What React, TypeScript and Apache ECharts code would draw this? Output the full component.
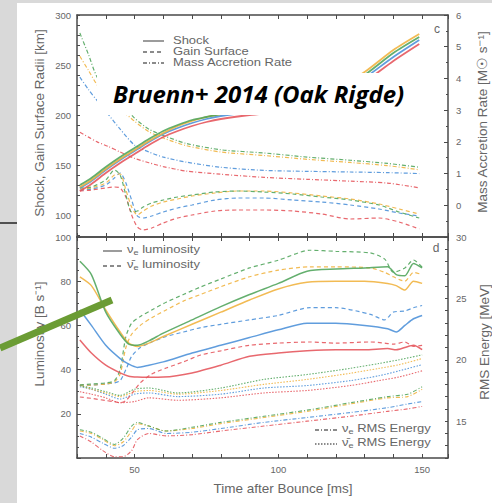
import React, { useEffect, useRef } from 'react';
import * as echarts from 'echarts';

// ---- Panel c : shock radius (km) ----
const shockTime = [31, 35, 40, 45, 50, 55, 60, 65, 70, 75, 80, 90, 100, 110, 120, 130, 140, 149];
const shockGreen = [130, 137, 148, 158, 167, 176, 184, 190, 195, 198, 201, 205, 208, 213, 223, 240, 262, 278];
const shockOrange = [128, 135, 146, 156, 165, 174, 182, 189, 194, 198, 201, 206, 210, 216, 226, 243, 265, 281];
const shockBlue = [127, 134, 145, 155, 164, 173, 181, 187, 192, 196, 199, 203, 206, 210, 219, 237, 258, 275];
const shockRed = [124, 131, 142, 152, 161, 170, 178, 184, 189, 193, 196, 200, 203, 207, 216, 233, 254, 271];

// ---- Panel c : gain surface radius (km) ----
const gainTime = [31, 35, 40, 43, 45, 47, 49, 51, 53, 56, 60, 65, 70, 78, 86, 95, 105, 115, 125, 135, 142, 149];
const gainGreen = [127, 128, 135, 145, 140, 120, 103, 104, 108, 112, 115, 118, 120, 123, 124, 123, 121, 118, 115, 110, 103, 97];
const gainOrange = [126, 127, 132, 140, 141, 125, 108, 100, 104, 109, 113, 116, 119, 122, 124, 124, 122, 119, 116, 111, 106, 101];
const gainBlue = [125, 126, 130, 137, 142, 132, 115, 99, 97, 99, 103, 107, 110, 115, 117, 117, 115, 113, 110, 106, 102, 99];
const gainRed = [124, 125, 127, 128, 127, 118, 100, 88, 85, 87, 92, 97, 100, 104, 105, 105, 104, 101, 96, 97, 93, 86];

// ---- Panel c : mass accretion rate (Msun/s) ----
const mdotTime = [31, 34, 37, 41, 45, 50, 55, 60, 68, 80, 95, 110, 125, 138, 149];
const mdotGreen = [5.43, 4.75, 4.04, 3.65, 3.25, 2.75, 2.4, 2.2, 1.95, 1.75, 1.65, 1.52, 1.42, 1.32, 1.2];
const mdotOrange = [4.7, 4.25, 3.8, 3.4, 3.05, 2.65, 2.32, 2.12, 1.88, 1.68, 1.57, 1.45, 1.35, 1.25, 1.12];
const mdotBlue = [4.04, 3.65, 3.3, 2.85, 2.4, 1.9, 1.68, 1.52, 1.36, 1.2, 1.1, 1.07, 1.05, 1.03, 1.0];
const mdotRed = [2.3, 2.15, 2.0, 1.85, 1.68, 1.48, 1.34, 1.22, 1.08, 0.98, 0.88, 0.82, 0.76, 0.7, 0.55];

// ---- Panel d : nu_e luminosity (B/s) ----
const lumTime = [31, 35, 40, 45, 48, 51, 55, 60, 70, 80, 90, 100, 110, 120, 130, 138, 141, 144, 147, 150];
const lumGreen = [89, 83, 66, 56, 51.5, 51, 53, 56.5, 62.5, 68.5, 74, 79, 84.5, 85.5, 86, 86.5, 83, 82.5, 88, 86];
const lumOrange = [82, 78, 67, 57, 52, 50.5, 52, 55, 60.5, 66, 71.5, 76.5, 79.5, 80, 80, 79, 78, 76, 80, 79];
const lumBlue = [67, 60, 51, 45, 42.5, 41, 42, 43.5, 47.5, 51, 54.5, 58, 61, 61, 60, 58.5, 57, 60, 63, 64.5];
const lumRed = [53.4, 47.5, 42, 38.5, 37, 36.6, 36.5, 36.6, 38.5, 42, 46, 47.5, 48.5, 49, 49, 49.5, 49, 50, 51, 49];

// ---- Panel d : anti-nu_e luminosity (B/s) ----
const alumTime = [31, 35, 40, 43, 45, 47, 49, 52, 56, 61, 67, 73, 80, 90, 100, 111, 120, 132, 137, 140, 144, 147, 150];
const alumGreen = [33, 33.5, 34, 35, 40, 55, 61, 64, 67, 70.5, 74, 77.4, 81, 86, 89.5, 94, 93.5, 92.8, 90, 84, 86, 89.6, 86.4];
const alumOrange = [33, 33, 33.5, 34.5, 38, 50, 56, 60, 63.5, 67, 71, 74, 77.5, 82, 85, 86.5, 86.5, 86, 84, 82, 80, 84, 83];
const alumBlue = [33, 33, 33.5, 34, 35, 40, 46, 50, 52.5, 55, 57, 59, 60.5, 62.5, 64.5, 68, 68, 65, 62.5, 66, 66.5, 68, 69];
const alumRed = [27.6, 27, 26, 25.5, 25, 26, 29, 34, 38, 40.7, 43.5, 46.6, 48.5, 51, 52, 52.5, 52, 52.5, 52, 51.5, 52.5, 50.5, 51];

// ---- Panel d : nu_e RMS energy (MeV) ----
const ermsTime = [31, 35, 39, 43, 46, 49, 51, 55, 61, 70, 80, 95, 110, 125, 138, 145, 150];
const ermsGreen = [14.3, 14.1, 13.6, 13.1, 13.6, 14.6, 14.9, 14.6, 14.2, 14.5, 14.9, 15.4, 15.9, 16.5, 17.0, 17.2, 17.8];
const ermsOrange = [14.2, 14.0, 13.5, 13.0, 13.3, 14.2, 14.8, 14.6, 14.2, 14.4, 14.8, 15.3, 15.8, 16.4, 16.9, 17.0, 17.6];
const ermsBlue = [14.0, 13.7, 13.2, 12.8, 13.0, 13.7, 14.3, 14.4, 14.0, 14.1, 14.4, 14.9, 15.3, 15.7, 16.1, 16.4, 16.6];
const ermsRed = [13.8, 13.3, 12.6, 12.1, 12.1, 12.6, 13.5, 14.0, 13.8, 13.9, 14.2, 14.6, 15.0, 15.4, 15.8, 16.0, 16.2];

// ---- Panel d : anti-nu_e RMS energy (MeV) ----
const aermsTime = [31, 35, 40, 45, 50, 55, 65, 80, 95, 110, 125, 135, 142, 150];
const aermsGreen = [17.9, 17.7, 17.4, 17.1, 17.6, 17.7, 17.3, 17.7, 18.4, 18.8, 19.3, 19.7, 20.0, 20.4];
const aermsOrange = [17.9, 17.6, 17.3, 17.0, 17.4, 17.5, 17.2, 17.5, 18.0, 18.4, 18.9, 19.3, 19.6, 20.1];
const aermsBlue = [17.8, 17.6, 17.2, 16.8, 17.2, 17.3, 17.0, 17.2, 17.7, 17.9, 18.3, 18.7, 19.1, 19.6];
const aermsRed = [17.4, 17.2, 16.9, 16.5, 16.6, 16.9, 16.7, 16.9, 17.3, 17.5, 17.9, 18.3, 18.6, 19.1];

// ---- axis ticks / labels ----
const kmLabels = [100, 150, 200, 250, 300];
const mevLabels = [15, 20, 25, 30];
const timeLabels = [50, 100, 150];

const GREEN = '#4ea45a';
const ORANGE = '#f0b23c';
const BLUE = '#4a90d8';
const RED = '#e5535a';
const AX = '#4a4a4a';
const TXT = '#666666';
const FONT = 'Liberation Sans';

const SOLID: any = 'solid';
const DASH: any = [4, 3];
const DASHDOT: any = [4, 2, 1, 2];
const DOT: any = [1.5, 1.5];

function mk(times: number[], vals: number[], xi: number, yi: number, color: string, dash: any, width: number) {
  return {
    type: 'line',
    xAxisIndex: xi,
    yAxisIndex: yi,
    data: times.map((t, i) => [t, vals[i]]),
    showSymbol: false,
    smooth: 0.25,
    silent: true,
    lineStyle: { color, width, type: dash, opacity: 0.88 },
  };
}

function range(a: number, b: number, s: number) {
  const r: number[] = [];
  for (let v = a; v <= b + 1e-9; v += s) r.push(Math.round(v * 100) / 100);
  return r;
}

export default function App() {
  const ref = useRef<HTMLDivElement>(null);
  useEffect(() => {
    if (!ref.current) return;
    const chart = echarts.init(ref.current, undefined, { renderer: 'svg' });

    const xBase = (grid: number, pos: string, labels: boolean) => ({
      type: 'value',
      gridIndex: grid,
      position: pos,
      min: 30,
      max: 159,
      interval: 10,
      splitLine: { show: false },
      axisLine: { show: true, onZero: false, lineStyle: { color: AX, width: 1.5 } },
      axisTick: { show: true, inside: true, length: 4, lineStyle: { color: AX } },
      axisLabel: labels
        ? { show: true, customValues: timeLabels, color: TXT, fontSize: 9.5, fontFamily: FONT, margin: 6 }
        : { show: false },
    });

    const C = 0; // x axis of panel c
    const D = 1; // x axis of panel d

    const series: any[] = [
      // panel c
      mk(gainTime, gainRed, C, 0, RED, DASH, 1.2),
      mk(gainTime, gainBlue, C, 0, BLUE, DASH, 1.2),
      mk(gainTime, gainOrange, C, 0, ORANGE, DASH, 1.2),
      mk(gainTime, gainGreen, C, 0, GREEN, DASH, 1.2),
      mk(mdotTime, mdotRed, C, 1, RED, DASHDOT, 1.2),
      mk(mdotTime, mdotBlue, C, 1, BLUE, DASHDOT, 1.2),
      mk(mdotTime, mdotOrange, C, 1, ORANGE, DASHDOT, 1.2),
      mk(mdotTime, mdotGreen, C, 1, GREEN, DASHDOT, 1.2),
      mk(shockTime, shockRed, C, 0, RED, SOLID, 1.8),
      mk(shockTime, shockBlue, C, 0, BLUE, SOLID, 1.8),
      mk(shockTime, shockOrange, C, 0, ORANGE, SOLID, 1.8),
      mk(shockTime, shockGreen, C, 0, GREEN, SOLID, 1.8),
      // panel d
      mk(ermsTime, ermsRed, D, 3, RED, DASHDOT, 1.1),
      mk(ermsTime, ermsBlue, D, 3, BLUE, DASHDOT, 1.1),
      mk(ermsTime, ermsOrange, D, 3, ORANGE, DASHDOT, 1.1),
      mk(ermsTime, ermsGreen, D, 3, GREEN, DASHDOT, 1.1),
      mk(aermsTime, aermsRed, D, 3, RED, DOT, 1.1),
      mk(aermsTime, aermsBlue, D, 3, BLUE, DOT, 1.1),
      mk(aermsTime, aermsOrange, D, 3, ORANGE, DOT, 1.1),
      mk(aermsTime, aermsGreen, D, 3, GREEN, DOT, 1.1),
      mk(alumTime, alumRed, D, 2, RED, DASH, 1.2),
      mk(alumTime, alumBlue, D, 2, BLUE, DASH, 1.2),
      mk(alumTime, alumOrange, D, 2, ORANGE, DASH, 1.2),
      mk(alumTime, alumGreen, D, 2, GREEN, DASH, 1.2),
      mk(lumTime, lumRed, D, 2, RED, SOLID, 1.5),
      mk(lumTime, lumBlue, D, 2, BLUE, SOLID, 1.5),
      mk(lumTime, lumOrange, D, 2, ORANGE, SOLID, 1.5),
      mk(lumTime, lumGreen, D, 2, GREEN, SOLID, 1.5),
    ];

    const legendLine = (x1: number, x2: number, y: number, dash: any) => ({
      type: 'line',
      z: 50,
      shape: { x1, y1: y, x2, y2: y },
      style: { stroke: '#666', lineWidth: 1.3, lineDash: dash === SOLID ? null : dash },
    });
    const legendText = (x: number, y: number, text: string) => ({
      type: 'text',
      z: 50,
      x,
      y,
      scaleX: 1.3,
      scaleY: 1,
      style: {
        text,
        fill: TXT,
        fontSize: 10,
        fontFamily: FONT,
        verticalAlign: 'middle',
        rich: {
          s: { fontSize: 7, fill: TXT, fontFamily: FONT, padding: [6, 0, 0, 0] },
        },
      },
    });
    const vName = (x: number, y: number, text: string) => ({
      type: 'text',
      z: 50,
      x,
      y,
      rotation: Math.PI / 2,
      style: { text, fill: TXT, fontSize: 13.5, fontFamily: FONT, align: 'center', verticalAlign: 'middle' },
    });

    const option: any = {
      animation: false,
      backgroundColor: '#ffffff',
      grid: [
        { left: 77, top: 15, width: 371, height: 222, show: false },
        { left: 77, top: 237, width: 371, height: 221, show: false },
      ],
      xAxis: [
        xBase(0, 'bottom', false),
        xBase(1, 'bottom', true),
        xBase(0, 'top', false),
        xBase(1, 'top', false),
      ],
      yAxis: [
        {
          type: 'value', gridIndex: 0, position: 'left', min: 78, max: 300,
          splitLine: { show: false },
          axisLine: { show: true, onZero: false, lineStyle: { color: AX, width: 1.5 } },
          axisTick: { show: true, inside: true, length: 3, customValues: range(80, 300, 10), lineStyle: { color: AX } },
          axisLabel: { customValues: kmLabels, color: TXT, fontSize: 9.5, fontFamily: FONT, margin: 6 },
        },
        {
          type: 'value', gridIndex: 0, position: 'right', min: -1, max: 6, interval: 1,
          splitLine: { show: false },
          axisLine: { show: true, onZero: false, lineStyle: { color: AX, width: 1.5 } },
          axisTick: { show: true, inside: true, length: 4, lineStyle: { color: AX } },
          minorTick: { show: true, splitNumber: 2, length: 2, lineStyle: { color: AX } },
          axisLabel: { color: TXT, fontSize: 9.5, fontFamily: FONT, margin: 8, formatter: (v: number) => (v < 0 ? '' : String(v)) },
        },
        {
          type: 'value', gridIndex: 1, position: 'left', min: 0, max: 100, interval: 20,
          splitLine: { show: false },
          axisLine: { show: true, onZero: false, lineStyle: { color: AX, width: 1.5 } },
          axisTick: { show: true, inside: true, length: 4, lineStyle: { color: AX } },
          minorTick: { show: true, splitNumber: 4, length: 2, lineStyle: { color: AX } },
          axisLabel: { color: TXT, fontSize: 9.5, fontFamily: FONT, margin: 6, formatter: (v: number) => (v === 0 ? '' : String(v)) },
        },
        {
          type: 'value', gridIndex: 1, position: 'right', min: 12, max: 30,
          splitLine: { show: false },
          axisLine: { show: true, onZero: false, lineStyle: { color: AX, width: 1.5 } },
          axisTick: { show: true, inside: true, length: 3, customValues: range(12, 30, 1), lineStyle: { color: AX } },
          axisLabel: { customValues: mevLabels, color: TXT, fontSize: 9.5, fontFamily: FONT, margin: 8 },
        },
      ],
      series,
      graphic: [
        // slide background strips
        { type: 'rect', z: 40, shape: { x: 0, y: 0, width: 17, height: 503 }, style: { fill: '#d9d9d9' } },
        { type: 'rect', z: 40, shape: { x: 0, y: 0, width: 492, height: 3 }, style: { fill: '#d9d9d9' } },
        { type: 'line', z: 41, shape: { x1: 0, y1: 223, x2: 17, y2: 223 }, style: { stroke: '#222', lineWidth: 1.5 } },
        // panel tags
        { type: 'text', z: 50, x: 437, y: 29, style: { text: 'c', fill: TXT, fontSize: 12, fontFamily: FONT, align: 'center', verticalAlign: 'middle' } },
        { type: 'text', z: 50, x: 436, y: 248, style: { text: 'd', fill: TXT, fontSize: 12, fontFamily: FONT, align: 'center', verticalAlign: 'middle' } },
        // legend panel c
        legendLine(143, 164, 41, SOLID),
        legendLine(143, 164, 52, DASH),
        legendLine(143, 164, 63, DASHDOT),
        legendText(173, 41, 'Shock'),
        legendText(173, 52, 'Gain Surface'),
        legendText(173, 63, 'Mass Accretion Rate'),
        // legend panel d (top)
        legendLine(103, 122, 251, SOLID),
        legendLine(103, 122, 266, DASH),
        legendText(127, 250, 'ν{s|e} luminosity'),
        legendText(127, 265, 'ν\u0304{s|e} luminosity'),
        // legend panel d (bottom)
        legendLine(315, 337, 430, DASHDOT),
        legendLine(315, 337, 444, DOT),
        legendText(342, 429, 'ν{s|e} RMS Energy'),
        legendText(342, 443, 'ν\u0304{s|e} RMS Energy'),
        // axis names
        vName(39, 123, 'Shock, Gain Surface Radii [km]'),
        vName(39, 334, 'Luminosity [B s⁻¹]'),
        vName(482, 122, 'Mass Accretion Rate [M☉ s⁻¹]'),
        vName(484, 342, 'RMS Energy [MeV]'),
        { type: 'text', z: 50, x: 283, y: 488, style: { text: 'Time after Bounce [ms]', fill: TXT, fontSize: 13.5, fontFamily: FONT, align: 'center', verticalAlign: 'middle' } },
        // overlay annotation
        { type: 'rect', z: 100, shape: { x: 97, y: 73, width: 313, height: 42 }, style: { fill: '#ffffff' } },
        {
          type: 'text', z: 101, x: 113, y: 93,
          style: { text: 'Bruenn+ 2014 (Oak Rigde)', fill: '#000', fontSize: 24, fontWeight: 'bold', fontStyle: 'italic', fontFamily: 'Open Sans', verticalAlign: 'middle' },
        },
        { type: 'line', z: 102, shape: { x1: 0, y1: 348, x2: 112, y2: 300 }, style: { stroke: '#6b9c34', lineWidth: 7 } },
      ],
    };
    chart.setOption(option);
    return () => chart.dispose();
  }, []);
  return <div ref={ref} style={{ position: 'fixed', left: 0, top: 0, width: 492, height: 503 }} />;
}
